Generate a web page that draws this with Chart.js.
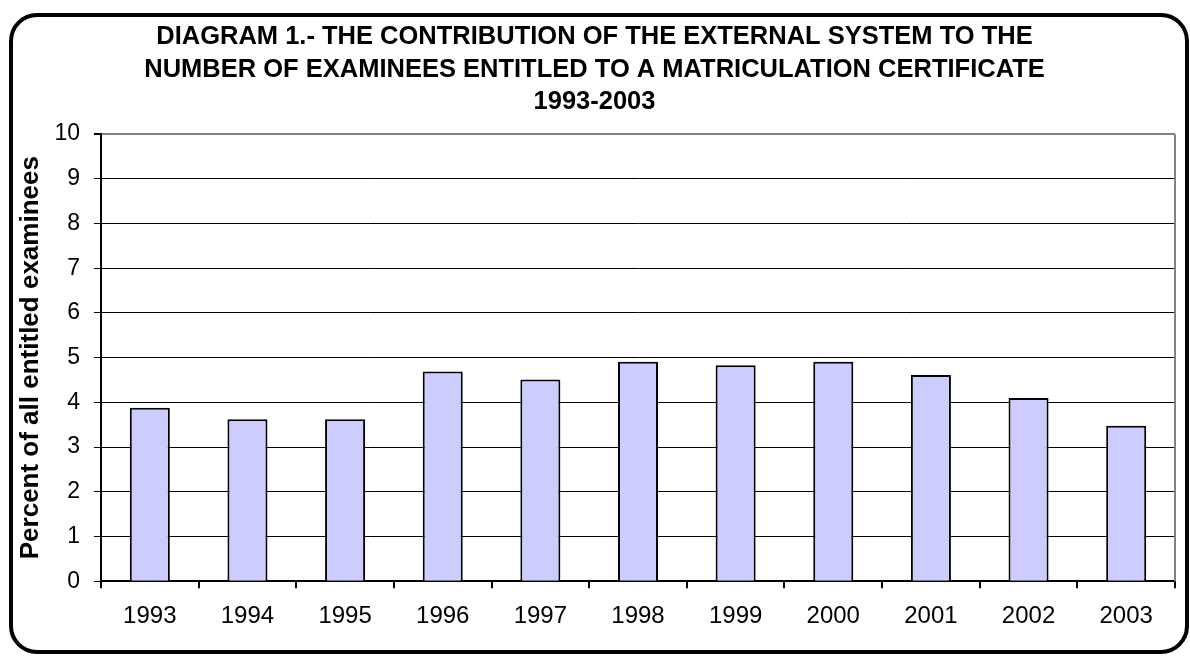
<!DOCTYPE html>
<html>
<head>
<meta charset="utf-8">
<script src="https://cdn.jsdelivr.net/npm/chart.js@4"></script>
<style>
  html, body { margin: 0; padding: 0; background: #fff; }
  #myChart { display: block; }
</style>
</head>
<body>
<canvas id="myChart" width="1190" height="657"></canvas>
<script>
const years = ['1993','1994','1995','1996','1997','1998','1999','2000','2001','2002','2003'];
const percentValues = [3.88, 3.62, 3.62, 4.69, 4.51, 4.91, 4.83, 4.91, 4.61, 4.10, 3.48];
const titleLines = [
  'DIAGRAM 1.- THE CONTRIBUTION OF THE EXTERNAL SYSTEM TO THE',
  'NUMBER OF EXAMINEES ENTITLED TO A MATRICULATION CERTIFICATE',
  '1993-2003'
];
const yAxisTitle = 'Percent of all entitled examinees';
const MIN_VALUE = 0;
const MAX_VALUE = 10;

const FONT = "'Liberation Sans', Arial, sans-serif";

// rounded frame + gray plot border, like the spreadsheet chart
const framePlugin = {
  id: 'frame',
  beforeDraw(chart) {
    const c = chart.ctx;
    c.save();
    c.fillStyle = '#fff';
    c.fillRect(0, 0, chart.width, chart.height);
    c.restore();
  },
  afterDraw(chart) {
    const c = chart.ctx;
    const a = chart.chartArea;
    c.save();
    c.strokeStyle = '#808080';
    c.lineWidth = 2;
    c.beginPath();
    c.moveTo(a.right, a.top);
    c.lineTo(a.right, a.bottom);
    c.stroke();
    c.strokeStyle = '#000';
    c.lineWidth = 4;
    c.beginPath();
    c.roundRect(11, 15, 1176, 637, 26);
    c.stroke();
    c.restore();
  }
};

const ctxt = document.getElementById('myChart').getContext('2d');

const myChart = new Chart(ctxt, {
  type: 'bar',
  data: {
    labels: years,
    datasets: [{
      data: percentValues,
      backgroundColor: '#CCCCFF',
      borderColor: '#000',
      borderWidth: 2,
      barPercentage: 0.41,
      categoryPercentage: 1
    }]
  },
  options: {
    responsive: false,
    animation: false,
    devicePixelRatio: 1,
    layout: {
      padding: { left: 14, right: 15, top: 0, bottom: 12 }
    },
    plugins: {
      legend: { display: false },
      tooltip: { enabled: false },
      title: {
        display: true,
        text: titleLines,
        color: '#000',
        font: { family: FONT, size: 25.5, weight: 'bold', lineHeight: 1.27 },
        padding: { top: 21, bottom: 16 }
      }
    },
    scales: {
      x: {
        offset: true,
        grid: {
          display: true,
          offset: true,
          drawOnChartArea: false,
          drawTicks: true,
          tickLength: 7,
          color: '#000',
          lineWidth: 2
        },
        border: { display: true, color: '#000', width: 2 },
        ticks: {
          color: '#000',
          font: { family: FONT, size: 24 },
          padding: 14,
          maxRotation: 0
        }
      },
      y: {
        min: MIN_VALUE,
        max: MAX_VALUE,
        afterFit: (scale) => { scale.width = 87; },
        grid: {
          color: (c) => (c.tick && c.tick.value === MAX_VALUE ? '#808080' : '#000'),
          lineWidth: (c) => (c.tick && c.tick.value === MAX_VALUE ? 2 : 1),
          tickColor: '#000',
          tickLength: 7
        },
        border: { display: true, color: '#000', width: 2 },
        ticks: {
          stepSize: 1,
          color: '#000',
          font: { family: FONT, size: 23 },
          padding: 14
        },
        title: {
          display: true,
          text: yAxisTitle,
          color: '#000',
          font: { family: FONT, size: 26, weight: 'bold' },
          padding: { top: 1, bottom: 7 }
        }
      }
    }
  },
  plugins: [framePlugin]
});
</script>
</body>
</html>
